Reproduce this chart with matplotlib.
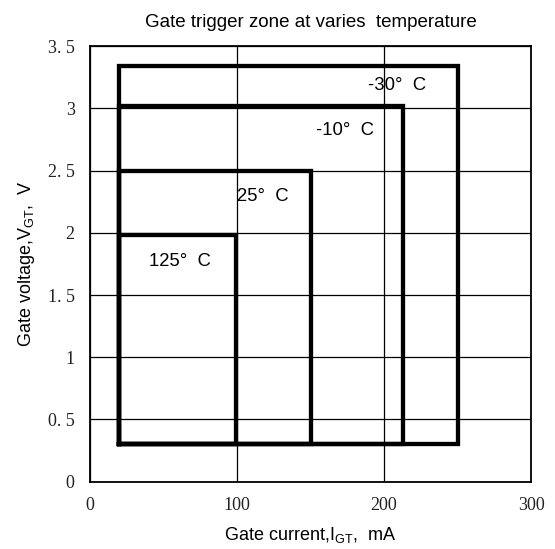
import matplotlib
matplotlib.use("Agg")
import matplotlib.pyplot as plt

# gate trigger limits for each junction temperature
TEMPS = ["-30", "-10", "25", "125"]
IGT_MIN = [20, 20, 20, 20]          # mA
IGT_MAX = [250, 213, 150, 99]       # mA
VGT_MIN = [0.3, 0.3, 0.3, 0.3]      # V
VGT_MAX = [3.34, 3.02, 2.5, 1.98]   # V

X_TICKS = [0, 100, 200, 300]
Y_TICKS = [0, 0.5, 1, 1.5, 2, 2.5, 3, 3.5]

# where each temperature tag sits (left edge, vertical centre)
TAG_POS = [(189, 3.18), (154, 2.82), (100, 2.29), (40, 1.77)]

plt.rcParams["font.family"] = ["Liberation Sans", "DejaVu Sans"]
plt.rcParams["mathtext.fontset"] = "custom"
plt.rcParams["mathtext.rm"] = "Liberation Sans"

fig = plt.figure(figsize=(5.55, 5.49), dpi=100)
ax = fig.add_axes([0.162, 0.1226, 0.795, 0.7934])

for lo_i, hi_i, lo_v, hi_v in zip(IGT_MIN, IGT_MAX, VGT_MIN, VGT_MAX):
    xs = [lo_i, lo_i, hi_i, hi_i, lo_i]
    ys = [lo_v, hi_v, hi_v, lo_v, lo_v]
    ax.plot(xs, ys, color="black", lw=3.1, solid_joinstyle="miter", zorder=3)

for t, (tx, ty) in zip(TEMPS, TAG_POS):
    ax.text(tx, ty, f"{t}°  C", fontsize=13.3, ha="left", va="center", zorder=4)

ax.set_xlim(0, 300)
ax.set_ylim(0, 3.5)
ax.set_xticks(X_TICKS)
ax.set_yticks(Y_TICKS)
ax.set_xticklabels([str(v) for v in X_TICKS], family="Liberation Serif",
                   fontsize=13, color="#222222")
ax.set_yticklabels([f"{v:g}".replace(".", ". ") for v in Y_TICKS],
                   family="Liberation Serif", fontsize=13, color="#222222")
ax.tick_params(length=0, pad=11)
ax.grid(True, color="black", lw=0.9)
for s in ax.spines.values():
    s.set_linewidth(1.3)

ax.set_title("Gate trigger zone at varies  temperature", fontsize=13.5, pad=14)
ax.set_xlabel(r"Gate current,I$_{\mathrm{GT}}$,  mA", fontsize=13, labelpad=8)
ax.set_ylabel(r"Gate voltage,V$_{\mathrm{GT}}$,  V", fontsize=13, labelpad=8)

fig.savefig("out.png", dpi=100)
